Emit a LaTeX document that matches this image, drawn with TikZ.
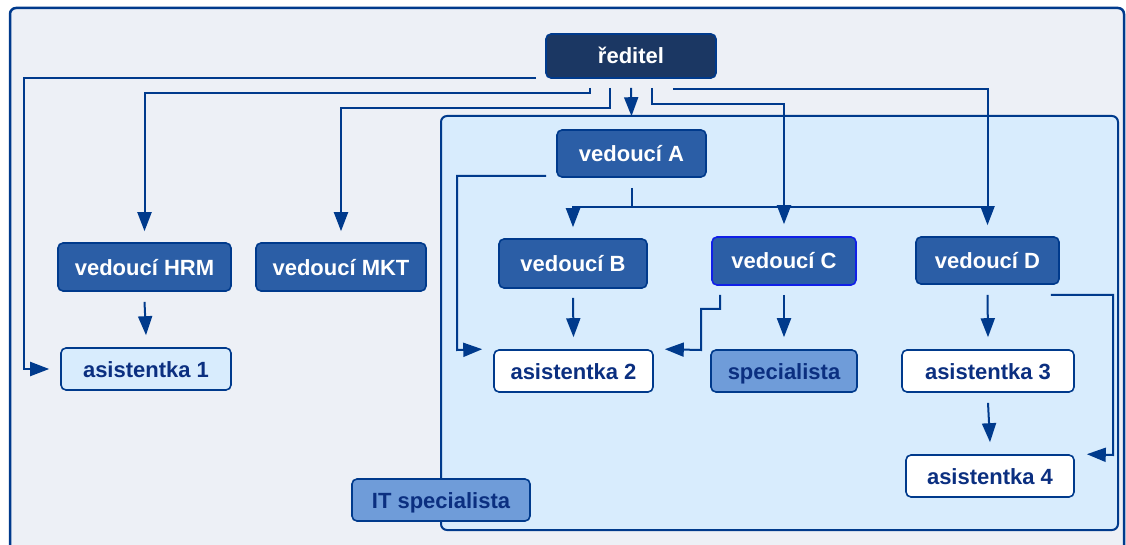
\documentclass[tikz,border=0pt]{standalone}
\usepackage{fontspec}
\setmainfont{Liberation Sans}
\usetikzlibrary{arrows.meta,calc}
\definecolor{lineblue}{HTML}{003A8C}
\definecolor{outerfill}{HTML}{EDF0F6}
\definecolor{panelfill}{HTML}{D8ECFD}
\definecolor{topfill}{HTML}{1B3763}
\definecolor{headfill}{HTML}{2B5EA6}
\definecolor{specfill}{HTML}{6F9CD9}
\definecolor{darktext}{HTML}{0B2F80}
\definecolor{brightblue}{HTML}{1020E8}
\tikzset{
  base/.style={draw=lineblue, line width=1.6pt, rounded corners=5pt, inner sep=0pt,
    text height=16pt, text depth=0pt,
    font=\fontsize{22}{25}\selectfont\bfseries},
  topbox/.style={base, fill=topfill, text=white},
  headbox/.style={base, fill=headfill, text=white},
  assbox/.style={base, fill=white, text=darktext},
  lightbox/.style={base, fill=panelfill, text=darktext},
  specbox/.style={base, fill=specfill, text=darktext},
  arr/.style={draw=lineblue, line width=2pt, -{Triangle[length=19pt,width=14pt]}},
  ln/.style={draw=lineblue, line width=2pt},
}
\begin{document}
\begin{tikzpicture}[x=1pt,y=-1pt]
\useasboundingbox (0,0) rectangle (1126,545);
\begin{scope}
\clip (0,0) rectangle (1126,545);
\draw[lineblue, line width=2.5pt, fill=outerfill, rounded corners=6pt] (10,8) rectangle (1124,565);
\end{scope}
\draw[lineblue, line width=2pt, fill=panelfill, rounded corners=6pt] (441,116) rectangle (1118,530);

\node[topbox, minimum width=170pt, minimum height=44pt] (red) at (631,56) {ředitel};
\node[headbox, minimum width=149pt, minimum height=47pt] (vA) at (631.5,153.5) {vedoucí A};
\node[headbox, minimum width=173pt, minimum height=48pt] (hrm) at (144.5,267) {vedoucí HRM};
\node[headbox, minimum width=170pt, minimum height=48pt] (mkt) at (341,267) {vedoucí MKT};
\node[headbox, minimum width=148pt, minimum height=49pt] (vB) at (573,263.5) {vedoucí B};
\node[headbox, draw=brightblue, minimum width=144pt, minimum height=48pt] (vC) at (784,261) {vedoucí C};
\node[headbox, minimum width=143pt, minimum height=47pt] (vD) at (987.5,260.5) {vedoucí D};
\node[lightbox, minimum width=170pt, minimum height=42pt] (a1) at (146,369) {asistentka 1};
\node[assbox, minimum width=159pt, minimum height=42pt] (a2) at (573.5,371) {asistentka 2};
\node[specbox, minimum width=146pt, minimum height=42pt] (spec) at (784,371) {specialista};
\node[assbox, minimum width=172pt, minimum height=42pt] (a3) at (988,371) {asistentka 3};
\node[assbox, minimum width=168pt, minimum height=42pt] (a4) at (990,476) {asistentka 4};
\node[specbox, minimum width=178pt, minimum height=42pt] (its) at (441,500) {IT specialista};

% from reditel
\draw[arr] ([xshift=-9pt,yshift=1pt]red.south west) -| (24,369) -- ([xshift=-11pt]a1.west);
\draw[arr] ([xshift=-41pt,yshift=-9pt]red.south) -- ++(0,5) -| ([yshift=11pt]hrm.north);
\draw[arr] ([xshift=-21pt,yshift=-9pt]red.south) -- ++(0,20) -| ([yshift=11pt]mkt.north);
\draw[arr] ([yshift=-9pt]red.south) -- ([yshift=13pt]vA.north);
\draw[arr] ([xshift=21pt,yshift=-9pt]red.south) -- ++(0,16) -| ([yshift=12pt]vC.north);
\draw[arr] ([xshift=42pt,yshift=-10pt]red.south) -| ([yshift=11pt]vD.north);
% from vedouci A
\draw[ln] ([yshift=-10pt]vA.south) -- ++(0,19) coordinate (j);
\draw[arr] (j -| vD.north) -| ([yshift=11pt]vB.north);
\draw[arr] ([xshift=-10pt,yshift=2pt]vA.south west) -| (457,350) -- ([xshift=-11pt]a2.north west);
% B, C, D
\draw[arr] ([yshift=-9pt]vB.south) -- ([yshift=12pt]a2.north);
\draw[arr] ([xshift=9pt,yshift=-9pt]vC.south west) -- ++(0,14) -| (701,350) -- ([xshift=11pt]a2.north east);
\draw[arr] ([yshift=-9pt]vC.south) -- ([yshift=12pt]spec.north);
\draw[arr] ([yshift=-10pt]vD.south) -- ([yshift=12pt]a3.north);
\draw[arr] ([xshift=-9pt,yshift=-10pt]vD.south east) -| (1113,455) -- ([xshift=12pt]a4.north east);
\draw[arr] ([yshift=-10pt]a3.south) -- ([yshift=12pt]a4.north);
% HRM
\draw[arr] ([yshift=-10pt]hrm.south) -- ([yshift=12pt]a1.north);
\end{tikzpicture}
\end{document}
